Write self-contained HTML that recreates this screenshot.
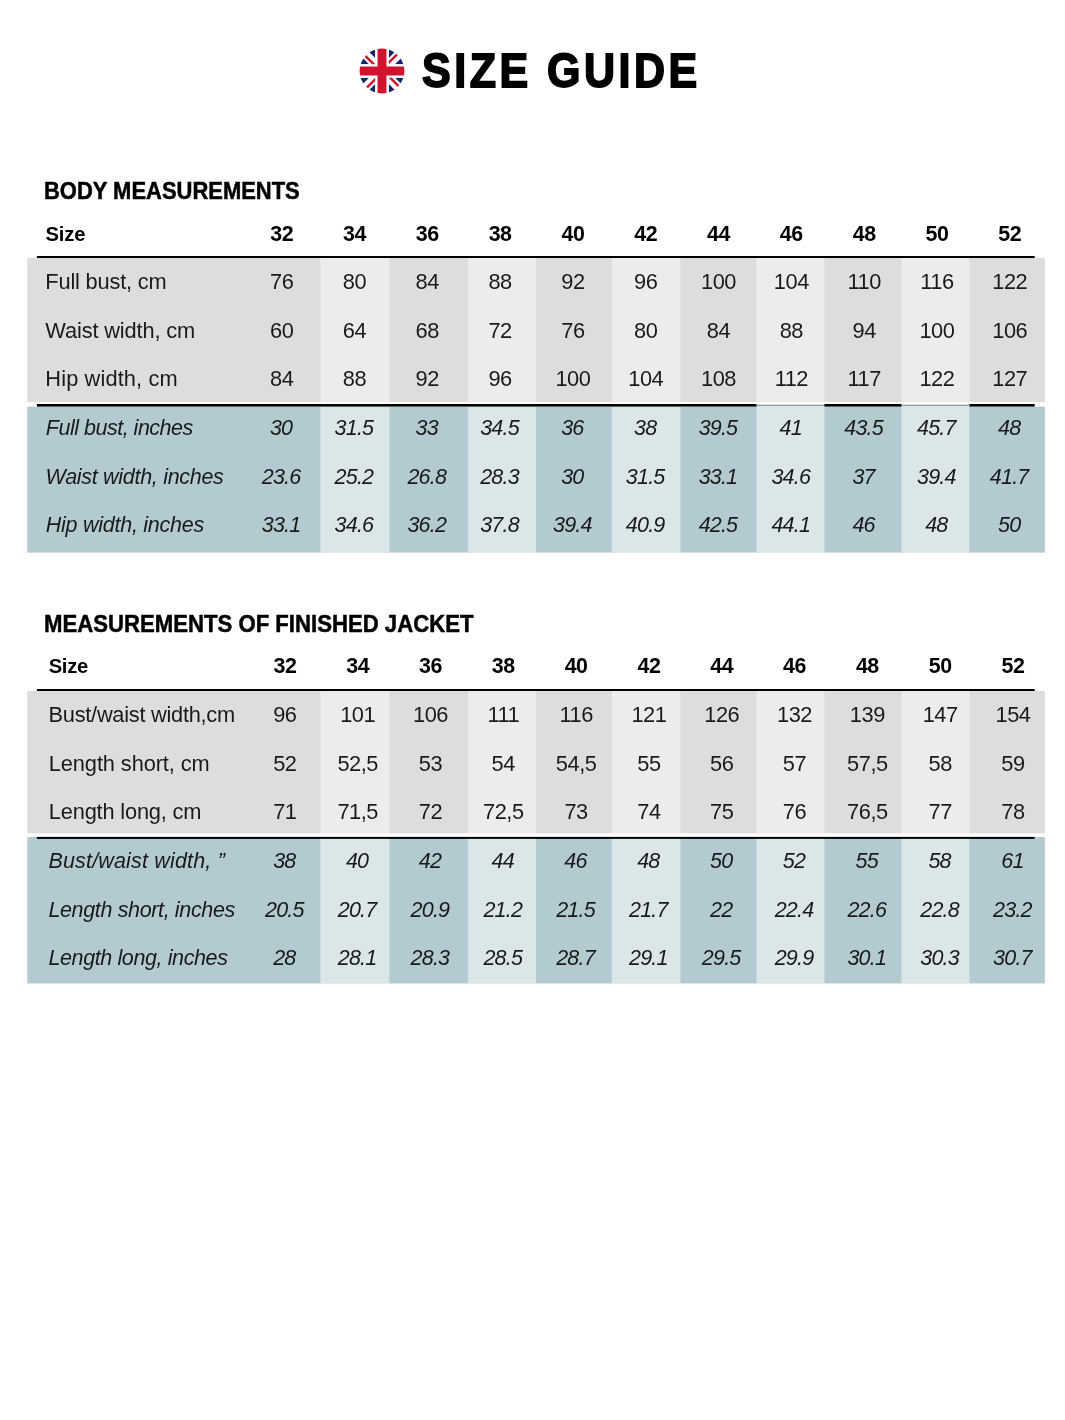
<!DOCTYPE html>
<html lang="en">
<head>
<meta charset="utf-8">
<title>Size Guide</title>
<style>
*{box-sizing:border-box}
html,body{margin:0;padding:0;background:#fff}
body{width:1065px;height:1420px;position:relative;overflow:hidden;font-family:"Liberation Sans", Arial, Helvetica, sans-serif;color:#1a1a1a}
main{position:absolute;left:0;top:0;width:1065px;height:1420px;overflow:hidden;will-change:transform}
.bg{position:absolute;left:0;top:0;display:block}
.flag{position:absolute;display:block}
h1,h2{margin:0;position:absolute;white-space:nowrap;line-height:30px;height:30px;font-weight:700;color:#000;transform-origin:0 50%}
h1{line-height:60px;height:60px}
.row span{position:absolute;white-space:nowrap;line-height:30px;height:30px;display:block}
.row .n{width:120px;text-align:center}
.b{font-weight:700;color:#000}
.i{font-style:italic}
</style>
</head>
<body>
<main>
<svg class="bg" width="1065" height="1420" viewBox="0 0 1065 1420" aria-hidden="true">
<rect x="27.3" y="258" width="1017.6" height="144.1" fill="#dedddb"/>
<rect x="27.3" y="406.6" width="1017.6" height="146.0" fill="#b3cbd0"/>
<rect x="36.9" y="404.0" width="997.8" height="2.6" fill="#000"/>
<rect x="320.4" y="258" width="69.1" height="144.1" fill="#fff" fill-opacity="0.46"/>
<rect x="320.4" y="407.0" width="69.1" height="145.6" fill="#fff" fill-opacity="0.53"/>
<rect x="467.9" y="258" width="68.1" height="144.1" fill="#fff" fill-opacity="0.46"/>
<rect x="467.9" y="407.0" width="68.1" height="145.6" fill="#fff" fill-opacity="0.53"/>
<rect x="611.8" y="258" width="68.6" height="144.1" fill="#fff" fill-opacity="0.46"/>
<rect x="611.8" y="407.0" width="68.6" height="145.6" fill="#fff" fill-opacity="0.53"/>
<rect x="756.5" y="258" width="67.9" height="144.1" fill="#fff" fill-opacity="0.46"/>
<rect x="756.5" y="407.0" width="67.9" height="145.6" fill="#fff" fill-opacity="0.53"/>
<rect x="756.5" y="403.9" width="67.9" height="1" fill="#fff"/>
<rect x="756.5" y="404.8" width="67.9" height="0.9" fill="#b2b3af"/>
<rect x="756.5" y="405.7" width="67.9" height="1.35" fill="#dbe7e9"/>
<rect x="901.5" y="258" width="68.0" height="144.1" fill="#fff" fill-opacity="0.46"/>
<rect x="901.5" y="407.0" width="68.0" height="145.6" fill="#fff" fill-opacity="0.53"/>
<rect x="901.5" y="403.9" width="68.0" height="1" fill="#fff"/>
<rect x="901.5" y="404.8" width="68.0" height="0.9" fill="#b2b3af"/>
<rect x="901.5" y="405.7" width="68.0" height="1.35" fill="#dbe7e9"/>
<rect x="36.9" y="256" width="997.8" height="2" fill="#000"/>
<rect x="27.3" y="691" width="1017.6" height="142.4" fill="#dedddb"/>
<rect x="27.3" y="837.0" width="1017.6" height="146.5" fill="#b3cbd0"/>
<rect x="36.9" y="836.9" width="997.8" height="2.0" fill="#000"/>
<rect x="320.4" y="691" width="69.1" height="142.4" fill="#fff" fill-opacity="0.46"/>
<rect x="320.4" y="838.9" width="69.1" height="144.6" fill="#fff" fill-opacity="0.53"/>
<rect x="467.9" y="691" width="68.1" height="142.4" fill="#fff" fill-opacity="0.46"/>
<rect x="467.9" y="838.9" width="68.1" height="144.6" fill="#fff" fill-opacity="0.53"/>
<rect x="611.8" y="691" width="68.6" height="142.4" fill="#fff" fill-opacity="0.46"/>
<rect x="611.8" y="838.9" width="68.6" height="144.6" fill="#fff" fill-opacity="0.53"/>
<rect x="756.5" y="691" width="67.9" height="142.4" fill="#fff" fill-opacity="0.46"/>
<rect x="756.5" y="838.9" width="67.9" height="144.6" fill="#fff" fill-opacity="0.53"/>
<rect x="901.5" y="691" width="68.0" height="142.4" fill="#fff" fill-opacity="0.46"/>
<rect x="901.5" y="838.9" width="68.0" height="144.6" fill="#fff" fill-opacity="0.53"/>
<rect x="36.9" y="689" width="997.8" height="2" fill="#000"/>
</svg>
<svg class="flag" width="60" height="60" viewBox="352.4 40.5 60 60" style="left:352.4px;top:40.5px" role="img" aria-label="English">
<defs><clipPath id="fc"><circle cx="382.4" cy="70.5" r="22.4"/></clipPath></defs>
<g clip-path="url(#fc)"><g transform="translate(382.4 70.5)">
<path d="M-6.80 -13.02L-6.80 -40.00L-33.78 -40.00ZM-13.02 -6.80L-40.00 -6.80L-40.00 -33.78ZM13.02 -6.80L40.00 -6.80L40.00 -33.78ZM6.80 -13.02L6.80 -40.00L33.78 -40.00ZM6.80 13.02L6.80 40.00L33.78 40.00ZM13.02 6.80L40.00 6.80L40.00 33.78ZM-13.02 6.80L-40.00 6.80L-40.00 33.78ZM-6.80 13.02L-6.80 40.00L-33.78 40.00Z" fill="#14256f"/>
<g transform="rotate(0)"><rect x="-40" y="-0.1" width="33.20" height="2.4" fill="#d0132f" transform="rotate(45)"/></g>
<g transform="rotate(90)"><rect x="-40" y="-0.1" width="33.20" height="2.4" fill="#d0132f" transform="rotate(45)"/></g>
<g transform="rotate(180)"><rect x="-40" y="-0.1" width="33.20" height="2.4" fill="#d0132f" transform="rotate(45)"/></g>
<g transform="rotate(270)"><rect x="-40" y="-0.1" width="33.20" height="2.4" fill="#d0132f" transform="rotate(45)"/></g>
<path d="M0 -40V40M-40 0H40" stroke="#fff" stroke-width="13.6"/>
<path d="M0 -40V40M-40 0H40" stroke="#d0132f" stroke-width="8.9"/>
</g></g></svg>
<h1 style="left:421.76px;top:39.90px;font-size:48.8px;letter-spacing:4.000px;-webkit-text-stroke:1.8px #000;transform:scaleX(0.8805)">SIZE GUIDE</h1>
<section id="table1">
<h2 style="left:44.15px;top:176.10px;font-size:23.8px;letter-spacing:0.000px;-webkit-text-stroke:0.5px #000;transform:scaleX(0.9224)">BODY MEASUREMENTS</h2>
<div class="row head">
<span class="b" style="left:45.55px;top:218.60px;font-size:20.2px;letter-spacing:-0.182px">Size</span>
<span class="n b" style="left:221.70px;top:218.60px;font-size:21.4px;letter-spacing:-0.4px">32</span>
<span class="n b" style="left:294.51px;top:218.60px;font-size:21.4px;letter-spacing:-0.4px">34</span>
<span class="n b" style="left:367.32px;top:218.60px;font-size:21.4px;letter-spacing:-0.4px">36</span>
<span class="n b" style="left:440.13px;top:218.60px;font-size:21.4px;letter-spacing:-0.4px">38</span>
<span class="n b" style="left:512.94px;top:218.60px;font-size:21.4px;letter-spacing:-0.4px">40</span>
<span class="n b" style="left:585.75px;top:218.60px;font-size:21.4px;letter-spacing:-0.4px">42</span>
<span class="n b" style="left:658.56px;top:218.60px;font-size:21.4px;letter-spacing:-0.4px">44</span>
<span class="n b" style="left:731.37px;top:218.60px;font-size:21.4px;letter-spacing:-0.4px">46</span>
<span class="n b" style="left:804.18px;top:218.60px;font-size:21.4px;letter-spacing:-0.4px">48</span>
<span class="n b" style="left:876.99px;top:218.60px;font-size:21.4px;letter-spacing:-0.4px">50</span>
<span class="n b" style="left:949.80px;top:218.60px;font-size:21.4px;letter-spacing:-0.4px">52</span>
</div>
<div class="row cm">
<span class="r" style="left:45.30px;top:266.50px;font-size:21.8px;letter-spacing:-0.175px">Full bust, cm</span>
<span class="n r" style="left:221.67px;top:266.50px;font-size:21.8px;letter-spacing:-0.45px">76</span>
<span class="n r" style="left:294.48px;top:266.50px;font-size:21.8px;letter-spacing:-0.45px">80</span>
<span class="n r" style="left:367.29px;top:266.50px;font-size:21.8px;letter-spacing:-0.45px">84</span>
<span class="n r" style="left:440.10px;top:266.50px;font-size:21.8px;letter-spacing:-0.45px">88</span>
<span class="n r" style="left:512.91px;top:266.50px;font-size:21.8px;letter-spacing:-0.45px">92</span>
<span class="n r" style="left:585.73px;top:266.50px;font-size:21.8px;letter-spacing:-0.45px">96</span>
<span class="n r" style="left:658.53px;top:266.50px;font-size:21.8px;letter-spacing:-0.45px">100</span>
<span class="n r" style="left:731.34px;top:266.50px;font-size:21.8px;letter-spacing:-0.45px">104</span>
<span class="n r" style="left:804.15px;top:266.50px;font-size:21.8px;letter-spacing:-0.45px">110</span>
<span class="n r" style="left:876.96px;top:266.50px;font-size:21.8px;letter-spacing:-0.45px">116</span>
<span class="n r" style="left:949.77px;top:266.50px;font-size:21.8px;letter-spacing:-0.45px">122</span>
</div>
<div class="row cm">
<span class="r" style="left:45.32px;top:316.15px;font-size:21.8px;letter-spacing:-0.135px">Waist width, cm</span>
<span class="n r" style="left:221.67px;top:316.15px;font-size:21.8px;letter-spacing:-0.45px">60</span>
<span class="n r" style="left:294.48px;top:316.15px;font-size:21.8px;letter-spacing:-0.45px">64</span>
<span class="n r" style="left:367.29px;top:316.15px;font-size:21.8px;letter-spacing:-0.45px">68</span>
<span class="n r" style="left:440.10px;top:316.15px;font-size:21.8px;letter-spacing:-0.45px">72</span>
<span class="n r" style="left:512.91px;top:316.15px;font-size:21.8px;letter-spacing:-0.45px">76</span>
<span class="n r" style="left:585.73px;top:316.15px;font-size:21.8px;letter-spacing:-0.45px">80</span>
<span class="n r" style="left:658.53px;top:316.15px;font-size:21.8px;letter-spacing:-0.45px">84</span>
<span class="n r" style="left:731.34px;top:316.15px;font-size:21.8px;letter-spacing:-0.45px">88</span>
<span class="n r" style="left:804.15px;top:316.15px;font-size:21.8px;letter-spacing:-0.45px">94</span>
<span class="n r" style="left:876.96px;top:316.15px;font-size:21.8px;letter-spacing:-0.45px">100</span>
<span class="n r" style="left:949.77px;top:316.15px;font-size:21.8px;letter-spacing:-0.45px">106</span>
</div>
<div class="row cm">
<span class="r" style="left:45.30px;top:363.80px;font-size:21.8px;letter-spacing:0.129px">Hip width, cm</span>
<span class="n r" style="left:221.67px;top:363.80px;font-size:21.8px;letter-spacing:-0.45px">84</span>
<span class="n r" style="left:294.48px;top:363.80px;font-size:21.8px;letter-spacing:-0.45px">88</span>
<span class="n r" style="left:367.29px;top:363.80px;font-size:21.8px;letter-spacing:-0.45px">92</span>
<span class="n r" style="left:440.10px;top:363.80px;font-size:21.8px;letter-spacing:-0.45px">96</span>
<span class="n r" style="left:512.91px;top:363.80px;font-size:21.8px;letter-spacing:-0.45px">100</span>
<span class="n r" style="left:585.73px;top:363.80px;font-size:21.8px;letter-spacing:-0.45px">104</span>
<span class="n r" style="left:658.53px;top:363.80px;font-size:21.8px;letter-spacing:-0.45px">108</span>
<span class="n r" style="left:731.34px;top:363.80px;font-size:21.8px;letter-spacing:-0.45px">112</span>
<span class="n r" style="left:804.15px;top:363.80px;font-size:21.8px;letter-spacing:-0.45px">117</span>
<span class="n r" style="left:876.96px;top:363.80px;font-size:21.8px;letter-spacing:-0.45px">122</span>
<span class="n r" style="left:949.77px;top:363.80px;font-size:21.8px;letter-spacing:-0.45px">127</span>
</div>
<div class="row inch">
<span class="i" style="left:45.77px;top:412.95px;font-size:21.5px;letter-spacing:-0.488px">Full bust, inches</span>
<span class="n i" style="left:221.10px;top:412.95px;font-size:21.5px;letter-spacing:-0.8px">30</span>
<span class="n i" style="left:293.91px;top:412.95px;font-size:21.5px;letter-spacing:-0.8px">31.5</span>
<span class="n i" style="left:366.72px;top:412.95px;font-size:21.5px;letter-spacing:-0.8px">33</span>
<span class="n i" style="left:439.53px;top:412.95px;font-size:21.5px;letter-spacing:-0.8px">34.5</span>
<span class="n i" style="left:512.34px;top:412.95px;font-size:21.5px;letter-spacing:-0.8px">36</span>
<span class="n i" style="left:585.15px;top:412.95px;font-size:21.5px;letter-spacing:-0.8px">38</span>
<span class="n i" style="left:657.96px;top:412.95px;font-size:21.5px;letter-spacing:-0.8px">39.5</span>
<span class="n i" style="left:730.77px;top:412.95px;font-size:21.5px;letter-spacing:-0.8px">41</span>
<span class="n i" style="left:803.58px;top:412.95px;font-size:21.5px;letter-spacing:-0.8px">43.5</span>
<span class="n i" style="left:876.39px;top:412.95px;font-size:21.5px;letter-spacing:-0.8px">45.7</span>
<span class="n i" style="left:949.20px;top:412.95px;font-size:21.5px;letter-spacing:-0.8px">48</span>
</div>
<div class="row inch">
<span class="i" style="left:45.59px;top:461.60px;font-size:21.5px;letter-spacing:-0.299px">Waist width, inches</span>
<span class="n i" style="left:221.10px;top:461.60px;font-size:21.5px;letter-spacing:-0.8px">23.6</span>
<span class="n i" style="left:293.91px;top:461.60px;font-size:21.5px;letter-spacing:-0.8px">25.2</span>
<span class="n i" style="left:366.72px;top:461.60px;font-size:21.5px;letter-spacing:-0.8px">26.8</span>
<span class="n i" style="left:439.53px;top:461.60px;font-size:21.5px;letter-spacing:-0.8px">28.3</span>
<span class="n i" style="left:512.34px;top:461.60px;font-size:21.5px;letter-spacing:-0.8px">30</span>
<span class="n i" style="left:585.15px;top:461.60px;font-size:21.5px;letter-spacing:-0.8px">31.5</span>
<span class="n i" style="left:657.96px;top:461.60px;font-size:21.5px;letter-spacing:-0.8px">33.1</span>
<span class="n i" style="left:730.77px;top:461.60px;font-size:21.5px;letter-spacing:-0.8px">34.6</span>
<span class="n i" style="left:803.58px;top:461.60px;font-size:21.5px;letter-spacing:-0.8px">37</span>
<span class="n i" style="left:876.39px;top:461.60px;font-size:21.5px;letter-spacing:-0.8px">39.4</span>
<span class="n i" style="left:949.20px;top:461.60px;font-size:21.5px;letter-spacing:-0.8px">41.7</span>
</div>
<div class="row inch">
<span class="i" style="left:45.77px;top:510.25px;font-size:21.5px;letter-spacing:-0.255px">Hip width, inches</span>
<span class="n i" style="left:221.10px;top:510.25px;font-size:21.5px;letter-spacing:-0.8px">33.1</span>
<span class="n i" style="left:293.91px;top:510.25px;font-size:21.5px;letter-spacing:-0.8px">34.6</span>
<span class="n i" style="left:366.72px;top:510.25px;font-size:21.5px;letter-spacing:-0.8px">36.2</span>
<span class="n i" style="left:439.53px;top:510.25px;font-size:21.5px;letter-spacing:-0.8px">37.8</span>
<span class="n i" style="left:512.34px;top:510.25px;font-size:21.5px;letter-spacing:-0.8px">39.4</span>
<span class="n i" style="left:585.15px;top:510.25px;font-size:21.5px;letter-spacing:-0.8px">40.9</span>
<span class="n i" style="left:657.96px;top:510.25px;font-size:21.5px;letter-spacing:-0.8px">42.5</span>
<span class="n i" style="left:730.77px;top:510.25px;font-size:21.5px;letter-spacing:-0.8px">44.1</span>
<span class="n i" style="left:803.58px;top:510.25px;font-size:21.5px;letter-spacing:-0.8px">46</span>
<span class="n i" style="left:876.39px;top:510.25px;font-size:21.5px;letter-spacing:-0.8px">48</span>
<span class="n i" style="left:949.20px;top:510.25px;font-size:21.5px;letter-spacing:-0.8px">50</span>
</div>
</section>
<section id="table2">
<h2 style="left:43.71px;top:608.60px;font-size:23.8px;letter-spacing:0.000px;-webkit-text-stroke:0.5px #000;transform:scaleX(0.9307)">MEASUREMENTS OF FINISHED JACKET</h2>
<div class="row head">
<span class="b" style="left:48.66px;top:651.30px;font-size:20.2px;letter-spacing:-0.285px">Size</span>
<span class="n b" style="left:224.90px;top:651.30px;font-size:21.4px;letter-spacing:-0.4px">32</span>
<span class="n b" style="left:297.71px;top:651.30px;font-size:21.4px;letter-spacing:-0.4px">34</span>
<span class="n b" style="left:370.52px;top:651.30px;font-size:21.4px;letter-spacing:-0.4px">36</span>
<span class="n b" style="left:443.33px;top:651.30px;font-size:21.4px;letter-spacing:-0.4px">38</span>
<span class="n b" style="left:516.14px;top:651.30px;font-size:21.4px;letter-spacing:-0.4px">40</span>
<span class="n b" style="left:588.95px;top:651.30px;font-size:21.4px;letter-spacing:-0.4px">42</span>
<span class="n b" style="left:661.76px;top:651.30px;font-size:21.4px;letter-spacing:-0.4px">44</span>
<span class="n b" style="left:734.57px;top:651.30px;font-size:21.4px;letter-spacing:-0.4px">46</span>
<span class="n b" style="left:807.38px;top:651.30px;font-size:21.4px;letter-spacing:-0.4px">48</span>
<span class="n b" style="left:880.19px;top:651.30px;font-size:21.4px;letter-spacing:-0.4px">50</span>
<span class="n b" style="left:953.00px;top:651.30px;font-size:21.4px;letter-spacing:-0.4px">52</span>
</div>
<div class="row cm">
<span class="r" style="left:48.57px;top:699.50px;font-size:21.8px;letter-spacing:-0.269px">Bust/waist width,cm</span>
<span class="n r" style="left:224.88px;top:699.50px;font-size:21.8px;letter-spacing:-0.45px">96</span>
<span class="n r" style="left:297.69px;top:699.50px;font-size:21.8px;letter-spacing:-0.45px">101</span>
<span class="n r" style="left:370.50px;top:699.50px;font-size:21.8px;letter-spacing:-0.45px">106</span>
<span class="n r" style="left:443.31px;top:699.50px;font-size:21.8px;letter-spacing:-0.45px">111</span>
<span class="n r" style="left:516.12px;top:699.50px;font-size:21.8px;letter-spacing:-0.45px">116</span>
<span class="n r" style="left:588.93px;top:699.50px;font-size:21.8px;letter-spacing:-0.45px">121</span>
<span class="n r" style="left:661.74px;top:699.50px;font-size:21.8px;letter-spacing:-0.45px">126</span>
<span class="n r" style="left:734.54px;top:699.50px;font-size:21.8px;letter-spacing:-0.45px">132</span>
<span class="n r" style="left:807.36px;top:699.50px;font-size:21.8px;letter-spacing:-0.45px">139</span>
<span class="n r" style="left:880.16px;top:699.50px;font-size:21.8px;letter-spacing:-0.45px">147</span>
<span class="n r" style="left:952.98px;top:699.50px;font-size:21.8px;letter-spacing:-0.45px">154</span>
</div>
<div class="row cm">
<span class="r" style="left:48.81px;top:749.15px;font-size:21.8px;letter-spacing:-0.097px">Length short, cm</span>
<span class="n r" style="left:224.88px;top:749.15px;font-size:21.8px;letter-spacing:-0.45px">52</span>
<span class="n r" style="left:297.69px;top:749.15px;font-size:21.8px;letter-spacing:-0.45px">52,5</span>
<span class="n r" style="left:370.50px;top:749.15px;font-size:21.8px;letter-spacing:-0.45px">53</span>
<span class="n r" style="left:443.31px;top:749.15px;font-size:21.8px;letter-spacing:-0.45px">54</span>
<span class="n r" style="left:516.12px;top:749.15px;font-size:21.8px;letter-spacing:-0.45px">54,5</span>
<span class="n r" style="left:588.93px;top:749.15px;font-size:21.8px;letter-spacing:-0.45px">55</span>
<span class="n r" style="left:661.74px;top:749.15px;font-size:21.8px;letter-spacing:-0.45px">56</span>
<span class="n r" style="left:734.54px;top:749.15px;font-size:21.8px;letter-spacing:-0.45px">57</span>
<span class="n r" style="left:807.36px;top:749.15px;font-size:21.8px;letter-spacing:-0.45px">57,5</span>
<span class="n r" style="left:880.16px;top:749.15px;font-size:21.8px;letter-spacing:-0.45px">58</span>
<span class="n r" style="left:952.98px;top:749.15px;font-size:21.8px;letter-spacing:-0.45px">59</span>
</div>
<div class="row cm">
<span class="r" style="left:48.81px;top:796.80px;font-size:21.8px;letter-spacing:-0.175px">Length long, cm</span>
<span class="n r" style="left:224.88px;top:796.80px;font-size:21.8px;letter-spacing:-0.45px">71</span>
<span class="n r" style="left:297.69px;top:796.80px;font-size:21.8px;letter-spacing:-0.45px">71,5</span>
<span class="n r" style="left:370.50px;top:796.80px;font-size:21.8px;letter-spacing:-0.45px">72</span>
<span class="n r" style="left:443.31px;top:796.80px;font-size:21.8px;letter-spacing:-0.45px">72,5</span>
<span class="n r" style="left:516.12px;top:796.80px;font-size:21.8px;letter-spacing:-0.45px">73</span>
<span class="n r" style="left:588.93px;top:796.80px;font-size:21.8px;letter-spacing:-0.45px">74</span>
<span class="n r" style="left:661.74px;top:796.80px;font-size:21.8px;letter-spacing:-0.45px">75</span>
<span class="n r" style="left:734.54px;top:796.80px;font-size:21.8px;letter-spacing:-0.45px">76</span>
<span class="n r" style="left:807.36px;top:796.80px;font-size:21.8px;letter-spacing:-0.45px">76,5</span>
<span class="n r" style="left:880.16px;top:796.80px;font-size:21.8px;letter-spacing:-0.45px">77</span>
<span class="n r" style="left:952.98px;top:796.80px;font-size:21.8px;letter-spacing:-0.45px">78</span>
</div>
<div class="row inch">
<span class="i" style="left:48.42px;top:845.95px;font-size:21.5px;letter-spacing:0.175px">Bust/waist width, ”</span>
<span class="n i" style="left:224.30px;top:845.95px;font-size:21.5px;letter-spacing:-0.8px">38</span>
<span class="n i" style="left:297.11px;top:845.95px;font-size:21.5px;letter-spacing:-0.8px">40</span>
<span class="n i" style="left:369.92px;top:845.95px;font-size:21.5px;letter-spacing:-0.8px">42</span>
<span class="n i" style="left:442.73px;top:845.95px;font-size:21.5px;letter-spacing:-0.8px">44</span>
<span class="n i" style="left:515.54px;top:845.95px;font-size:21.5px;letter-spacing:-0.8px">46</span>
<span class="n i" style="left:588.35px;top:845.95px;font-size:21.5px;letter-spacing:-0.8px">48</span>
<span class="n i" style="left:661.16px;top:845.95px;font-size:21.5px;letter-spacing:-0.8px">50</span>
<span class="n i" style="left:733.97px;top:845.95px;font-size:21.5px;letter-spacing:-0.8px">52</span>
<span class="n i" style="left:806.78px;top:845.95px;font-size:21.5px;letter-spacing:-0.8px">55</span>
<span class="n i" style="left:879.59px;top:845.95px;font-size:21.5px;letter-spacing:-0.8px">58</span>
<span class="n i" style="left:952.40px;top:845.95px;font-size:21.5px;letter-spacing:-0.8px">61</span>
</div>
<div class="row inch">
<span class="i" style="left:48.43px;top:894.60px;font-size:21.5px;letter-spacing:-0.359px">Length short, inches</span>
<span class="n i" style="left:224.30px;top:894.60px;font-size:21.5px;letter-spacing:-0.8px">20.5</span>
<span class="n i" style="left:297.11px;top:894.60px;font-size:21.5px;letter-spacing:-0.8px">20.7</span>
<span class="n i" style="left:369.92px;top:894.60px;font-size:21.5px;letter-spacing:-0.8px">20.9</span>
<span class="n i" style="left:442.73px;top:894.60px;font-size:21.5px;letter-spacing:-0.8px">21.2</span>
<span class="n i" style="left:515.54px;top:894.60px;font-size:21.5px;letter-spacing:-0.8px">21.5</span>
<span class="n i" style="left:588.35px;top:894.60px;font-size:21.5px;letter-spacing:-0.8px">21.7</span>
<span class="n i" style="left:661.16px;top:894.60px;font-size:21.5px;letter-spacing:-0.8px">22</span>
<span class="n i" style="left:733.97px;top:894.60px;font-size:21.5px;letter-spacing:-0.8px">22.4</span>
<span class="n i" style="left:806.78px;top:894.60px;font-size:21.5px;letter-spacing:-0.8px">22.6</span>
<span class="n i" style="left:879.59px;top:894.60px;font-size:21.5px;letter-spacing:-0.8px">22.8</span>
<span class="n i" style="left:952.40px;top:894.60px;font-size:21.5px;letter-spacing:-0.8px">23.2</span>
</div>
<div class="row inch">
<span class="i" style="left:48.43px;top:943.25px;font-size:21.5px;letter-spacing:-0.387px">Length long, inches</span>
<span class="n i" style="left:224.30px;top:943.25px;font-size:21.5px;letter-spacing:-0.8px">28</span>
<span class="n i" style="left:297.11px;top:943.25px;font-size:21.5px;letter-spacing:-0.8px">28.1</span>
<span class="n i" style="left:369.92px;top:943.25px;font-size:21.5px;letter-spacing:-0.8px">28.3</span>
<span class="n i" style="left:442.73px;top:943.25px;font-size:21.5px;letter-spacing:-0.8px">28.5</span>
<span class="n i" style="left:515.54px;top:943.25px;font-size:21.5px;letter-spacing:-0.8px">28.7</span>
<span class="n i" style="left:588.35px;top:943.25px;font-size:21.5px;letter-spacing:-0.8px">29.1</span>
<span class="n i" style="left:661.16px;top:943.25px;font-size:21.5px;letter-spacing:-0.8px">29.5</span>
<span class="n i" style="left:733.97px;top:943.25px;font-size:21.5px;letter-spacing:-0.8px">29.9</span>
<span class="n i" style="left:806.78px;top:943.25px;font-size:21.5px;letter-spacing:-0.8px">30.1</span>
<span class="n i" style="left:879.59px;top:943.25px;font-size:21.5px;letter-spacing:-0.8px">30.3</span>
<span class="n i" style="left:952.40px;top:943.25px;font-size:21.5px;letter-spacing:-0.8px">30.7</span>
</div>
</section>
</main>
</body>
</html>
